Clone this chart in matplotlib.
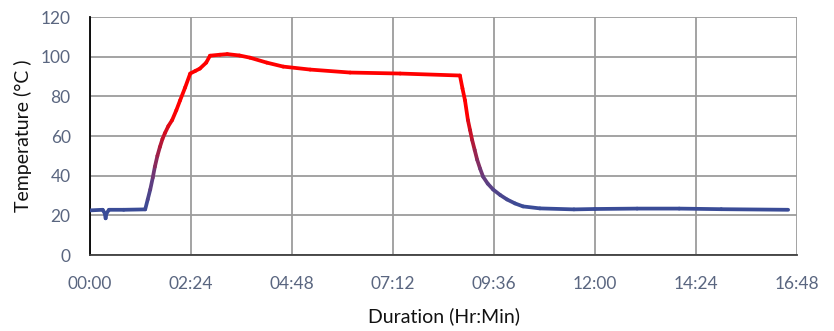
import numpy as np
import matplotlib
matplotlib.use("Agg")
import matplotlib.pyplot as plt
from matplotlib.collections import LineCollection
from matplotlib.colors import LinearSegmentedColormap, Normalize

# Oven temperature log: elapsed time (hours) and temperature (deg C)
hours = [0.00, 0.30, 0.35, 0.37, 0.39, 0.45, 0.80, 1.31,
         1.37, 1.43, 1.49, 1.54, 1.60, 1.66, 1.72, 1.78, 1.86, 1.95, 2.05,
         2.14, 2.26, 2.38, 2.50, 2.61, 2.76, 2.85, 3.09, 3.26, 3.55, 3.80,
         4.20, 4.59, 5.23, 6.18, 7.37, 8.79,
         8.85, 8.91, 8.98, 9.03, 9.08, 9.14, 9.20, 9.27, 9.34, 9.45, 9.58,
         9.75, 9.91, 10.10, 10.29, 10.69, 11.50, 12.00, 13.00, 14.00,
         15.00, 16.59]
temps = [22.5, 22.8, 21.0, 18.5, 21.0, 22.8, 22.8, 23.0,
         28.0, 33.0, 39.0, 44.5, 50.0, 54.5, 58.5, 61.5, 65.0, 68.0, 73.0,
         78.0, 84.5, 91.5, 92.8, 94.0, 97.0, 100.5, 101.0, 101.3, 100.6, 99.5,
         97.0, 95.0, 93.5, 92.0, 91.5, 90.5,
         84.0, 78.0, 68.0, 63.0, 58.0, 53.0, 48.0, 43.5, 39.5, 36.0, 33.0,
         30.2, 28.0, 26.0, 24.5, 23.5, 23.0, 23.2, 23.4, 23.4,
         23.1, 22.8]

x_ticks = np.arange(0, 16.81, 2.4)
x_tick_labels = ["00:00", "02:24", "04:48", "07:12", "09:36", "12:00", "14:24", "16:48"]
y_ticks = [0, 20, 40, 60, 80, 100, 120]

plt.rcParams["font.family"] = ["Lato", "DejaVu Sans"]

fig = plt.figure(figsize=(8.34, 3.31), dpi=100)
ax = fig.add_axes([0.108, 0.2296, 0.8476, 0.719])

x = np.asarray(hours)
y = np.asarray(temps)
pts = np.column_stack([x, y]).reshape(-1, 1, 2)
segs = np.concatenate([pts[:-1], pts[1:]], axis=1)
mid = 0.5 * (y[:-1] + y[1:])

cmap = LinearSegmentedColormap.from_list(
    "heat", ["#3A4C97", "#6A3A7A", "#B01838", "#FF0000"])
norm = Normalize(vmin=24, vmax=72)
lc = LineCollection(segs, colors=cmap(norm(mid)), linewidths=2.7,
                    capstyle="round", joinstyle="round", zorder=3)
lc.set_snap(False)
ax.add_collection(lc)

ax.set_xlim(0, 16.8)
ax.set_ylim(0, 120)
ax.set_xticks(x_ticks)
ax.set_xticklabels(x_tick_labels)
ax.set_yticks(y_ticks)

tick_color = "#5A6680"
ax.tick_params(axis="both", length=0, labelsize=12.5, colors=tick_color)
ax.tick_params(axis="x", pad=15)
ax.tick_params(axis="y", pad=14)

ax.grid(True, color="#9C9C9C", linewidth=1.3, zorder=0)
ax.set_axisbelow(True)
for side in ["top", "right"]:
    ax.spines[side].set_visible(False)
ax.spines["left"].set_color("#000000")
ax.spines["left"].set_linewidth(1.3)
ax.spines["bottom"].set_color("#3F3F3F")
ax.spines["bottom"].set_linewidth(1.3)

ax.set_xlabel("Duration (Hr:Min)", fontsize=14, color="#111111", labelpad=11)
ax.set_ylabel("Temperature (°C )", fontsize=14, color="#111111", labelpad=6)

fig.savefig("out.png", dpi=100)
